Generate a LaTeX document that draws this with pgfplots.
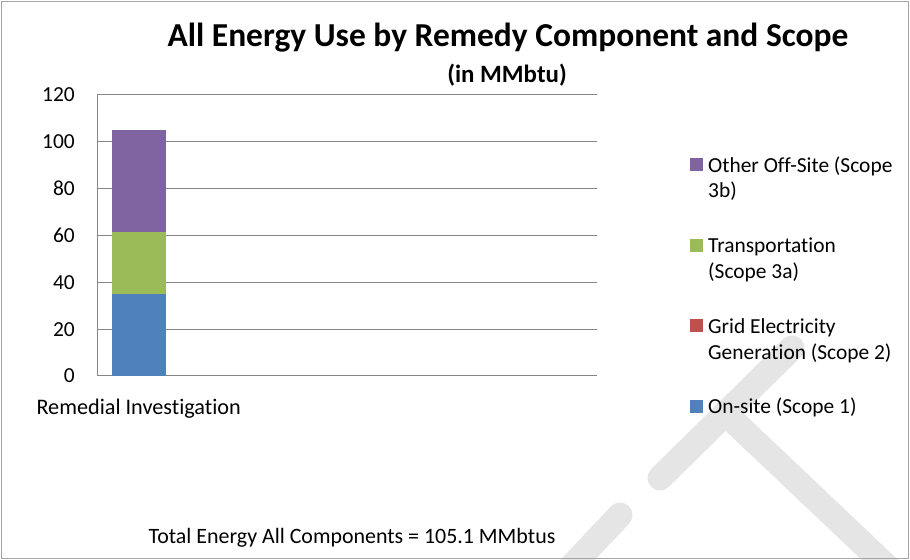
\documentclass[border=0pt]{standalone}
\usepackage{pgfplots}
\pgfplotsset{compat=1.18}
\usepackage{fontspec}
\setmainfont{Carlito}[Ligatures=NoCommon]
\definecolor{onsite}{HTML}{4F81BD}
\definecolor{gridel}{HTML}{C0504D}
\definecolor{transp}{HTML}{9BBB59}
\definecolor{offsite}{HTML}{8064A2}
\definecolor{axisgray}{HTML}{868686}
\newcommand{\lbl}{\fontsize{21.5}{26}\selectfont}

\begin{document}
\begin{tikzpicture}[x=1bp,y=1bp]
\fill[white] (0,0) rectangle (910,560);
% faint watermark behind the chart
\begin{scope}
\clip (0,0) rectangle (910,560);
\begin{scope}[black!10, line width=25bp, line cap=round]
\draw (792,212) -- (660,82);
\draw (620,45) -- (540,-40);
\draw (725,147) -- (920,-38);
\end{scope}
\end{scope}
\draw[gray!70, line width=1bp] (1.5,1.5) rectangle (908.5,558.5);

\node[anchor=base, inner sep=0pt, font=\bfseries\fontsize{33.6}{40}\selectfont] at (508,513) {All Energy Use by Remedy Component and Scope};
\node[anchor=base, inner sep=0pt, font=\bfseries\fontsize{25}{30}\selectfont] at (507,477) {(in MMbtu)};
\node[anchor=base, inner sep=0pt, font=\fontsize{22}{26}\selectfont] at (352,16) {Total Energy All Components = 105.1 MMbtus};

\begin{axis}[
  at={(97bp,184bp)}, anchor=south west,
  scale only axis, width=500bp, height=281bp,
  ybar stacked, bar width=54bp,
  xmin=-0.5, xmax=5.5, ymin=0, ymax=120,
  ytick={0,20,...,120},
  xtick={0}, xticklabels={Remedial Investigation},
  axis x line*=bottom, axis y line*=left,
  axis line style={axisgray, line width=1bp},
  ymajorgrids, grid style={axisgray, line width=1bp},
  major tick length=0pt,
  tick label style={font=\lbl},
  /pgf/number format/assume math mode=true,
  yticklabel style={inner sep=0pt, xshift=-22bp},
  xticklabel style={font=\fontsize{22.3}{26}\selectfont, inner sep=0pt, text height=14bp, text depth=0pt, yshift=-24bp},
  reverse legend,
  legend image code/.code={\path[#1] (0bp,1bp) rectangle (13bp,14bp);},
  legend style={at={(axis description cs:1.186,0.791)}, anchor=north west,
    draw=none, fill=none, inner sep=0pt, row sep=61bp, column sep=5bp,
    font=\lbl, nodes={inner sep=0pt, text width=192bp, align=flush left},
    cells={anchor=base west}},
]
\addplot[fill=onsite, draw=none] coordinates {(0,35.2)};
\addlegendentry{\strut On-site (Scope 1)}
\addplot[fill=gridel, draw=none] coordinates {(0,0)};
\addlegendentry{\strut Grid Electricity\\\strut Generation (Scope 2)}
\addplot[fill=transp, draw=none] coordinates {(0,26.4)};
\addlegendentry{\strut Transportation\\\strut (Scope 3a)}
\addplot[fill=offsite, draw=none] coordinates {(0,43.5)};
\addlegendentry{\strut Other Off-Site (Scope\\\strut 3b)}
\end{axis}
\end{tikzpicture}
\end{document}
